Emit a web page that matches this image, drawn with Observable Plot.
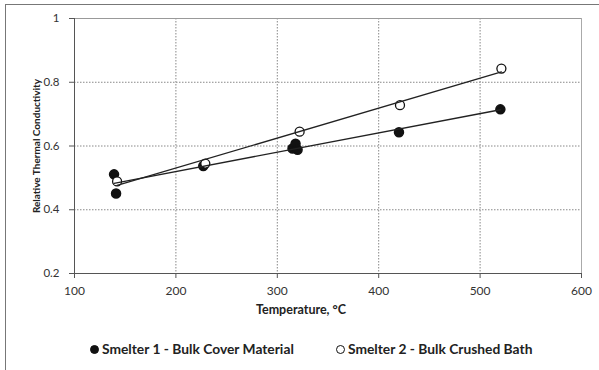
<!DOCTYPE html>
<html>
<head>
<meta charset="utf-8">
<script src="https://cdn.jsdelivr.net/npm/d3@7"></script>
<script src="https://cdn.jsdelivr.net/npm/@observablehq/plot@0.6"></script>
<style>
  html, body { margin: 0; padding: 0; background: #fff; }
  body { width: 599px; height: 370px; position: relative; overflow: hidden; font-family: Lato, "Liberation Sans", sans-serif; }
  #frame { position: absolute; left: 5px; top: 4px; width: 620px; height: 400px; border-left: 1.5px solid #777; border-top: 1.5px solid #777; }
  #chart { position: absolute; left: 0; top: 0; }
  #chart svg text { font-family: Lato, "Liberation Sans", sans-serif; }
  #chart g[aria-label="y-axis label"] text { font-weight: bold; font-size: 10px; fill: #222; }
  #xtitle { position: absolute; left: 201px; width: 200px; top: 302px; text-align: center; font-weight: bold; font-size: 12.5px; color: #222; }
  .leg { position: absolute; top: 340px; font-weight: bold; font-size: 13.8px; color: #222; white-space: nowrap; line-height: 18px; }
  .sym { display: inline-block; width: 9px; height: 9px; border-radius: 50%; box-sizing: border-box; vertical-align: 0px; margin-right: 3px; }
</style>
</head>
<body>
<div id="frame"></div>
<div id="chart"></div>
<div id="xtitle"></div>
<div id="legend"></div>
<script>
// Data
const s1Name = "Smelter 1 - Bulk Cover Material";
const s2Name = "Smelter 2 - Bulk Crushed Bath";
const s1Temp = [139, 141, 227, 315, 318, 320, 420, 520];
const s1Cond = [0.511, 0.451, 0.537, 0.592, 0.607, 0.588, 0.643, 0.715];
const s2Temp = [142, 229, 322, 421, 521];
const s2Cond = [0.489, 0.545, 0.645, 0.728, 0.843];
const xTicks = [100, 200, 300, 400, 500, 600];
const yTicks = [0.2, 0.4, 0.6, 0.8, 1];
const xGrid = [200, 300, 400, 500];
const yGrid = [0.4, 0.6, 0.8];
const xTitle = "Temperature, °C";
const yTitle = "Relative Thermal Conductivity";

const s1 = s1Temp.map((t, i) => ({t, k: s1Cond[i]}));
const s2 = s2Temp.map((t, i) => ({t, k: s2Cond[i]}));

const chart = Plot.plot({
  width: 599,
  height: 325,
  marginLeft: 74,
  marginRight: 18,
  marginTop: 18,
  marginBottom: 52,
  style: {fontSize: "11.5px", color: "#333", background: "transparent"},
  x: {domain: [100, 600]},
  y: {domain: [0.2, 1]},
  marks: [
    Plot.gridX(xGrid, {stroke: "#888", strokeOpacity: 1, strokeDasharray: "1.5,1.5"}),
    Plot.gridY(yGrid, {stroke: "#888", strokeOpacity: 1, strokeDasharray: "1.5,1.5"}),
    Plot.ruleY([1], {stroke: "#999"}),
    Plot.ruleX([600], {stroke: "#aaa"}),
    Plot.axisX(xTicks, {tickSize: 5, tickPadding: 8, label: null, stroke: "#555", fontSize: 12}),
    Plot.axisY(yTicks, {tickSize: 5, tickPadding: 10, tickFormat: d => String(+d.toFixed(1)),
      label: yTitle, labelAnchor: "center", labelOffset: 42, labelArrow: "none", stroke: "#555"}),
    Plot.ruleX([100], {stroke: "#555"}),
    Plot.ruleY([0.2], {stroke: "#555"}),
    Plot.dot(s1, {x: "t", y: "k", r: 4.5, fill: "#111", stroke: "#111"}),
    Plot.dot(s2, {x: "t", y: "k", r: 4.5, fill: "white", stroke: "#111", strokeWidth: 1.3}),
    Plot.linearRegressionY(s1, {x: "t", y: "k", ci: 0, stroke: "#222", strokeWidth: 1.3}),
    Plot.linearRegressionY(s2, {x: "t", y: "k", ci: 0, stroke: "#222", strokeWidth: 1.3})
  ]
});
document.getElementById("chart").appendChild(chart);
document.getElementById("xtitle").textContent = xTitle;

const legend = document.getElementById("legend");
[[s1Name, "#111", 90], [s2Name, "white", 336]].forEach(([name, fill, left]) => {
  const d = document.createElement("div");
  d.className = "leg";
  d.style.left = left + "px";
  const s = document.createElement("span");
  s.className = "sym";
  s.style.background = fill;
  s.style.border = "1.3px solid #111";
  d.appendChild(s);
  d.appendChild(document.createTextNode(name));
  legend.appendChild(d);
});
</script>
</body>
</html>
